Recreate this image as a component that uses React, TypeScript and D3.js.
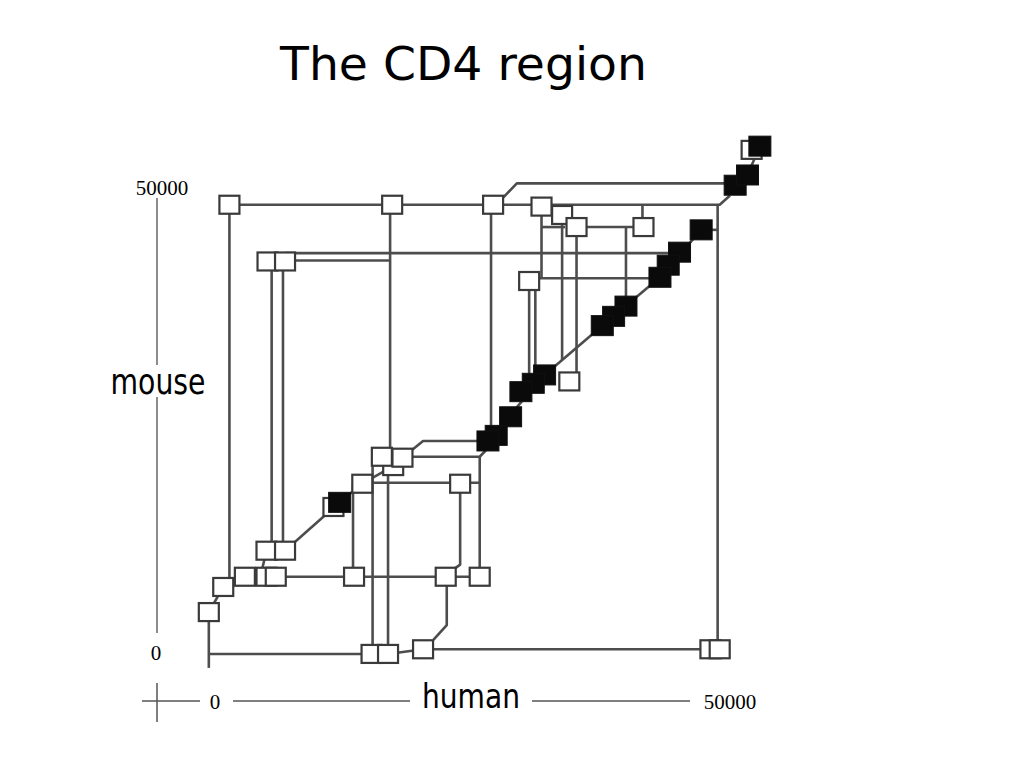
import * as d3 from 'd3';

// axis end labels (bp)
const humanTicks = [0, 50000];
const mouseTicks = [0, 50000];

// open boxes, [human bp, mouse bp]; drawn in this order
const openBoxes: [number, number][] = [
  [1400, 48200], [17200, 48200], [27000, 48200], [33700, 47100], [31700, 48000],
  [35100, 45800], [41600, 45800], [30500, 40000], [5100, 42100], [6800, 42100],
  [34400, 29200], [17300, 20100], [16200, 21100], [18200, 21000], [14300, 18200],
  [23800, 18200], [11500, 15700], [5000, 11000], [6800, 11000], [800, 7100],
  [2900, 8200], [5000, 8200], [5900, 8200], [13500, 8200], [22400, 8200],
  [25700, 8200], [-600, 4400], [15200, -100], [16800, -100], [20200, 400],
  [48100, 400], [49000, 400], [52100, 54100],
];

// conserved blocks (filled)
const solidBoxes: [number, number][] = [
  [52900, 54500], [50500, 50300], [51700, 51400], [47200, 45500], [45100, 43100],
  [44000, 41700], [43200, 40400], [39900, 37300], [38700, 36200], [37600, 35200],
  [32000, 29900], [30900, 29000], [29700, 28100], [28700, 25400], [27300, 23400],
  [26500, 22800], [12100, 16200],
];

// connecting lines, each a list of [human bp, mouse bp]
const links: [number, number][][] = [
  [[1400, 48200], [49000, 48200], [50000, 49200]],
  [[28000, 49000], [29300, 50500], [49700, 50500]],
  [[1400, 48200], [1400, 7800]],
  [[17000, 48200], [17000, 21800]],
  [[26800, 48200], [26800, 23400]],
  [[31700, 48000], [31700, 40300]],
  [[31700, 45800], [34000, 45800]],
  [[33700, 47100], [33700, 31500]],
  [[35100, 45800], [35100, 30200]],
  [[35100, 45800], [41600, 45800]],
  [[41500, 48200], [41500, 45800]],
  [[39900, 45800], [39900, 38200]],
  [[30500, 40300], [43200, 40300]],
  [[30500, 40000], [30500, 29400]],
  [[31100, 40000], [31100, 29700]],
  [[6800, 43000], [44200, 43000]],
  [[6800, 42200], [17000, 42200]],
  [[5500, 42100], [5500, 11000]],
  [[6600, 42100], [6600, 11000]],
  [[18200, 21000], [20200, 22800], [26500, 22800]],
  [[18200, 21100], [25700, 21100], [26300, 21800]],
  [[25700, 21100], [25700, 8200]],
  [[14300, 18300], [25700, 18300]],
  [[23800, 18200], [23800, 9500], [23300, 9100]],
  [[13400, 18200], [13400, 8200]],
  [[15300, 20100], [15300, -100]],
  [[16800, 20100], [16800, -100]],
  [[2900, 8200], [25700, 8200]],
  [[22500, 8200], [22500, 3000], [21200, 1400]],
  [[-600, 4400], [-600, -1600]],
  [[-600, -100], [15200, -100]],
  [[16800, -100], [20200, 400]],
  [[20200, 400], [49000, 400]],
  [[48800, 48200], [48800, 400]],
  [[47200, 45500], [48800, 45500]],
  [[800, 7100], [-600, 4400]],
  [[800, 7100], [2900, 8200]],
  [[6800, 11000], [12100, 16200]],
  [[12100, 16200], [14300, 18200], [17300, 20100]],
  [[26500, 22800], [32000, 29900]],
  [[32000, 29900], [37600, 35200]],
  [[37600, 35200], [43200, 40400]],
  [[43200, 40400], [47200, 45500]],
  [[51700, 51400], [52900, 54500]],
  [[5000, 11000], [4400, 8200]],
];

export default function App() {
  const width = 1024;
  const height = 768;

  const x = d3.scaleLinear().domain([0, 50000]).range([215, 730]);
  const y = d3.scaleLinear().domain([0, 50000]).range([653, 188]);
  const line = d3.line<[number, number]>().x(d => x(d[0])).y(d => y(d[1]));

  const ow = 20, oh = 18; // open box size
  const sw = 22, sh = 20; // solid box size
  const axisX = 157;
  const axisY = 701;
  const serif = '"Liberation Serif", "Times New Roman", serif';
  const hand = '"DejaVu Sans", sans-serif';

  return (
    <svg width={width} height={height} style={{ position: 'absolute', left: 0, top: 0, background: '#fff' }}>
      <text x={280} y={80} fontFamily={hand} fontSize={46} textLength={367} lengthAdjust="spacingAndGlyphs" fill="#000">
        The CD4 region
      </text>

      {/* mouse axis */}
      <line x1={axisX} x2={axisX} y1={y(50000) + 10} y2={365} stroke="#666" strokeWidth={1.5} />
      <line x1={axisX} x2={axisX} y1={397} y2={y(0) - 20} stroke="#666" strokeWidth={1.5} />
      <text x={158} y={394} textAnchor="middle" fontFamily={hand} fontSize={36} textLength={95} lengthAdjust="spacingAndGlyphs">mouse</text>
      {mouseTicks.map(t => (
        <text key={'m' + t} x={t === 0 ? 156 : 162} y={y(t) + 7} textAnchor="middle" fontFamily={serif} fontSize={21}>{t}</text>
      ))}

      {/* human axis */}
      <line x1={142} x2={200} y1={axisY} y2={axisY} stroke="#555" strokeWidth={1.5} />
      <line x1={axisX} x2={axisX} y1={683} y2={722} stroke="#555" strokeWidth={1.5} />
      <line x1={x(0) + 18} x2={410} y1={axisY} y2={axisY} stroke="#555" strokeWidth={1.5} />
      <line x1={532} x2={x(50000) - 40} y1={axisY} y2={axisY} stroke="#555" strokeWidth={1.5} />
      <text x={471} y={708} textAnchor="middle" fontFamily={hand} fontSize={33} textLength={98} lengthAdjust="spacingAndGlyphs">human</text>
      {humanTicks.map(t => (
        <text key={'h' + t} x={x(t)} y={axisY + 8} textAnchor="middle" fontFamily={serif} fontSize={21}>{t}</text>
      ))}

      {/* links */}
      <g fill="none" stroke="#4d4d4d" strokeWidth={2.6} strokeLinejoin="round">
        {links.map((pts, i) => (
          <path key={i} d={line(pts) || ''} />
        ))}
      </g>

      {/* open boxes */}
      <g fill="#fff" stroke="#3a3a3a" strokeWidth={2.2}>
        {openBoxes.map((d, i) => (
          <rect key={i} x={x(d[0]) - ow / 2} y={y(d[1]) - oh / 2} width={ow} height={oh} />
        ))}
      </g>

      {/* solid blocks */}
      <g fill="#0a0a0a" stroke="#111" strokeWidth={1}>
        {solidBoxes.map((d, i) => (
          <rect key={i} x={x(d[0]) - sw / 2} y={y(d[1]) - sh / 2} width={sw} height={sh} />
        ))}
      </g>
    </svg>
  );
}
